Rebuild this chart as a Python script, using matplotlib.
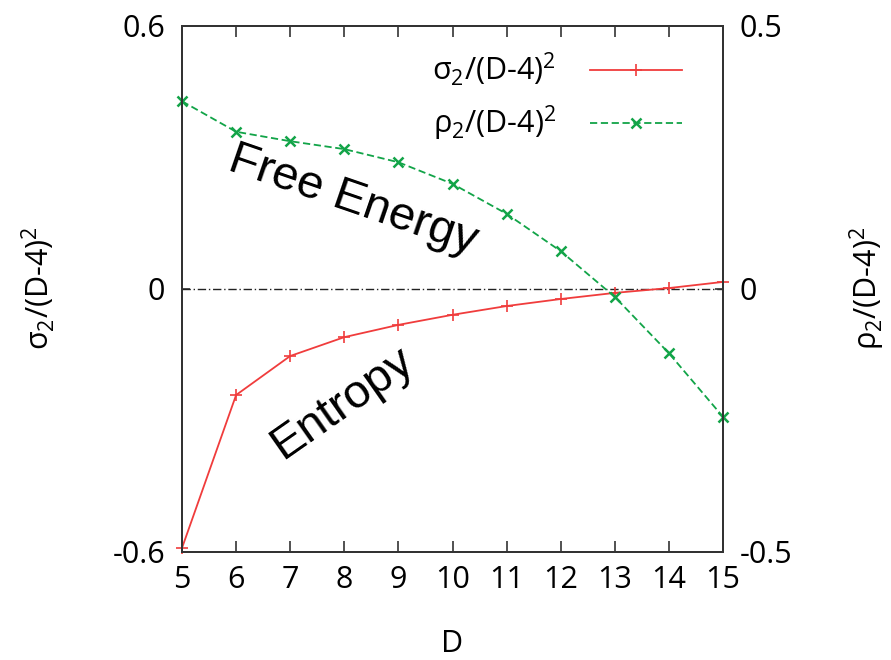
import matplotlib
matplotlib.use("Agg")
import matplotlib.pyplot as plt

plt.rcParams['font.family'] = ['Open Sans', 'DejaVu Sans']
plt.rcParams['mathtext.fontset'] = 'custom'
plt.rcParams['mathtext.rm'] = 'Open Sans'
plt.rcParams['mathtext.it'] = 'Open Sans:italic'

D = [5, 6, 7, 8, 9, 10, 11, 12, 13, 14, 15]
sigma2 = [-0.592, -0.243, -0.154, -0.111, -0.083, -0.060, -0.040, -0.024, -0.010, 0.001, 0.015]
rho2 = [0.356, 0.298, 0.280, 0.265, 0.240, 0.199, 0.142, 0.071, -0.016, -0.123, -0.244]
xticks = [5, 6, 7, 8, 9, 10, 11, 12, 13, 14, 15]
left_ticks = [-0.6, 0, 0.6]
right_ticks = [-0.5, 0, 0.5]

red = '#f03c3c'
green = '#12a448'
spine = '#333333'

fig = plt.figure(figsize=(8.91, 6.60), dpi=100)
ax = fig.add_axes([182/891, (660-551.5)/660, (723-182)/891, (551.5-25.5)/660])
ax2 = ax.twinx()

ax.axhline(0, color='#222222', lw=1.0, ls=(0, (6, 2, 1, 2)))
l1, = ax.plot(D, sigma2, color=red, lw=1.3, marker='+', ms=9, mew=1.2,
              label='σ$_2$/(D-4)$^2$', clip_on=False)
l2, = ax2.plot(D, rho2, color=green, lw=1.3, ls=(0, (4, 2)), marker='x', ms=7, mew=1.8,
               label='ρ$_2$/(D-4)$^2$', clip_on=False)

ax.set_xlim(5, 15)
ax.set_ylim(-0.6, 0.6)
ax2.set_ylim(-0.5, 0.5)
ax.set_xticks(xticks)
ax.set_yticks(left_ticks)
ax.set_yticklabels(['-0.6', '0', '0.6'])
ax2.set_yticks(right_ticks)
ax2.set_yticklabels(['-0.5', '0', '0.5'])

for a in (ax, ax2):
    for s in a.spines.values():
        s.set_color(spine)
        s.set_linewidth(1.4)
ax.tick_params(axis='x', which='both', direction='in', top=True, length=8, width=1.2,
               color=spine, labelsize=22, pad=10)
ax.tick_params(axis='y', direction='in', length=6, width=1.2, color=spine, labelsize=22, pad=12)
ax2.tick_params(axis='y', direction='in', length=6, width=1.2, color=spine, labelsize=22, pad=12)

ax.set_xlabel('D', fontsize=22, labelpad=24)
ax.set_ylabel('σ$_2$/(D-4)$^2$', fontsize=22, labelpad=40)
ax2.set_ylabel('ρ$_2$/(D-4)$^2$', fontsize=22, labelpad=40)

leg = ax.legend(handles=[l1, l2], loc='upper right', frameon=False, markerfirst=False,
                fontsize=22, handlelength=3.0, handletextpad=1.1, labelspacing=0.5,
                bbox_to_anchor=(0.946, 0.975), borderaxespad=0.0)

ann = ['Liberation Sans', 'DejaVu Sans']
ax.text(0.316, 0.668, 'Free Energy', transform=ax.transAxes, fontsize=34, family=ann,
        rotation=-19, ha='center', va='center', rotation_mode='anchor')
ax.text(0.296, 0.282, 'Entropy', transform=ax.transAxes, fontsize=34, family=ann,
        rotation=35, ha='center', va='center', rotation_mode='anchor')

fig.savefig('out.png', dpi=100)
